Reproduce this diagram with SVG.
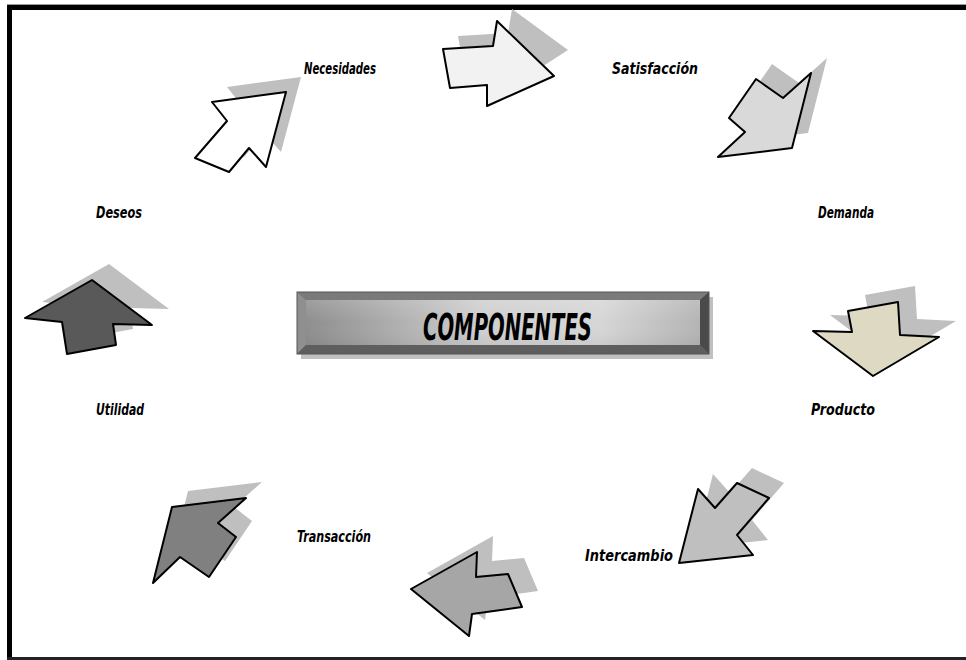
<svg xmlns="http://www.w3.org/2000/svg" width="966" height="660" viewBox="0 0 966 660">
<defs>
<style>
.arr{stroke:#000;stroke-width:2;stroke-linejoin:round}
.sh{fill:#bfbfbf}
.lbl{font-family:"DejaVu Sans Condensed","Liberation Sans Narrow","Liberation Sans",sans-serif;font-weight:bold;font-style:italic;font-size:15px;fill:#000}
</style>
<linearGradient id="face" x1="0" y1="0" x2="1" y2="0">
<stop offset="0" stop-color="#8e8e8e"/>
<stop offset="0.45" stop-color="#cfcfcf"/>
<stop offset="0.75" stop-color="#d6d6d6"/>
<stop offset="1" stop-color="#b4b4b4"/>
</linearGradient>
<linearGradient id="faceV" x1="0" y1="0" x2="0" y2="1">
<stop offset="0" stop-color="#fff" stop-opacity="0.15"/>
<stop offset="0.5" stop-color="#fff" stop-opacity="0"/>
<stop offset="1" stop-color="#000" stop-opacity="0.05"/>
</linearGradient>
</defs>
<rect width="966" height="660" fill="#fff"/>
<g id="frame">
<rect x="7" y="4" width="959" height="1" fill="#999"/>
<rect x="7" y="5" width="959" height="5" fill="#000"/>
<rect x="7" y="5" width="5" height="655" fill="#000"/>
<rect x="7" y="657" width="959" height="3" fill="#222"/>
</g>
<g id="componentes">
<rect x="301" y="297" width="412" height="62" fill="#c0c0c0"/>
<rect x="297" y="292" width="412" height="62" fill="#6a6a6a"/>
<polygon points="297,292 709,292 700,300 306,300" fill="#7a7a7a"/>
<polygon points="297,292 306,300 306,345 297,354" fill="#8f8f8f"/>
<polygon points="709,292 709,354 700,345 700,300" fill="#4a4a4a"/>
<polygon points="297,354 306,345 700,345 709,354" fill="#5e5e5e"/>
<rect x="306" y="300" width="394" height="45" fill="url(#face)"/>
<rect x="306" y="300" width="394" height="45" fill="url(#faceV)"/>
<rect x="297" y="292" width="412" height="62" fill="none" stroke="#555" stroke-width="1"/>
<text x="423" y="340" textLength="169" lengthAdjust="spacingAndGlyphs" style="font-family:'DejaVu Sans Condensed','Liberation Sans Narrow',sans-serif;font-weight:bold;font-style:italic;font-size:38px;fill:#000">COMPONENTES</text>
</g>
<g id="necesidades">
<polygon class="sh" points="301,77 227,87 242,106 210,143 244,157 264,133 281,152"/>
<polygon class="arr" fill="#fff" points="286,92 212,102 227,121 195,158 229,172 249,148 266,167"/>
<text class="lbl" x="304" y="74" textLength="72" lengthAdjust="spacingAndGlyphs">Necesidades</text>
</g>
<g id="satisfaccion">
<polygon class="sh" points="458,36 508,33 512,9 568,50 503,92 502,72 465,76"/>
<polygon class="arr" fill="#f2f2f2" points="443,49 493,46 497,21 554,76 487,106 487,85 450,88"/>
<text class="lbl" x="612" y="74" textLength="86" lengthAdjust="spacingAndGlyphs">Satisfacción</text>
</g>
<g id="demanda">
<polygon class="sh" points="827,58 799,83 772,64 745,103 761,117 734,142 808,133"/>
<polygon class="arr" fill="#d9d9d9" points="811,73 783,98 756,79 729,118 745,132 718,157 792,148"/>
<text class="lbl" x="818" y="218" textLength="56" lengthAdjust="spacingAndGlyphs">Demanda</text>
</g>
<g id="producto">
<polygon class="sh" points="865,295 915,286 917,319 956,321 890,360 830,315 869,316"/>
<polygon class="arr" fill="#ddd9c3" points="848,311 898,302 900,335 939,337 873,376 813,331 852,332"/>
<text class="lbl" x="811" y="415" textLength="64" lengthAdjust="spacingAndGlyphs">Producto</text>
</g>
<g id="intercambio">
<polygon class="sh" points="694,548 713,474 730,493 752,468 784,483 752,520 768,540"/>
<polygon class="arr" fill="#bfbfbf" points="679,563 698,489 715,508 737,483 769,498 737,535 753,555"/>
<text class="lbl" x="585" y="561" textLength="88" lengthAdjust="spacingAndGlyphs">Intercambio</text>
</g>
<g id="transaccion">
<polygon class="sh" points="427,573 493,536 492,561 524,558 538,591 488,598 485,620"/>
<polygon class="arr" fill="#a6a6a6" points="411,589 477,552 476,577 508,574 522,607 472,614 469,636"/>
<text class="lbl" x="297" y="542" textLength="74" lengthAdjust="spacingAndGlyphs">Transacción</text>
</g>
<g id="utilidad">
<polygon class="sh" points="188,491 262,482 234,507 252,521 225,561 196,541 169,567"/>
<polygon class="arr" fill="#808080" points="172,507 246,498 218,523 236,537 209,577 180,557 153,583"/>
<text class="lbl" x="96" y="415" textLength="48" lengthAdjust="spacingAndGlyphs">Utilidad</text>
</g>
<g id="deseos">
<polygon class="sh" points="109,264 169,309 130,308 133,329 84,338 79,306 42,302"/>
<polygon class="arr" fill="#595959" points="92,280 152,325 113,324 116,345 67,354 62,322 25,318"/>
<text class="lbl" x="96" y="218" textLength="46" lengthAdjust="spacingAndGlyphs">Deseos</text>
</g>
<g id="connectors"/>
</svg>
